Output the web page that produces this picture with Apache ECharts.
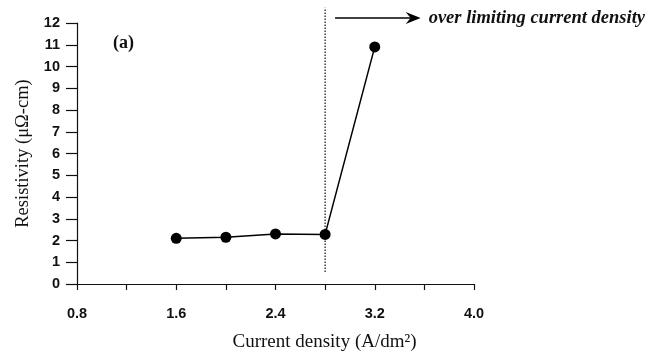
<!DOCTYPE html>
<html><head><meta charset="utf-8">
<script src="https://cdn.jsdelivr.net/npm/echarts@6/dist/echarts.min.js"></script>
<style>html,body{margin:0;padding:0;background:#fff}#c{width:663px;height:358px}</style>
</head><body><div id="c"></div>
<script>
const currentDensity = [1.6, 2.0, 2.4, 2.8, 3.2];
const resistivity = [2.1, 2.15, 2.3, 2.28, 10.9];
const xTicks = [0.8, 1.6, 2.4, 3.2, 4.0];
const limitX = 2.8;
const limitLineY = [0.55, 12.7];
const arrowX = [2.88, 3.57];
const arrowY = 12.23;
const annotation = 'over limiting current density';
const panelLabel = '(a)';

const chart = echarts.init(document.getElementById('c'));
const serif = '"Liberation Serif", "DejaVu Serif", serif';
const sans = '"Liberation Sans", Arial, sans-serif';
chart.setOption({
  animation: false,
  grid: {left: 77, right: 189, top: 23, bottom: 74},
  xAxis: {
    type: 'value', min: 0.8, max: 4.0, interval: 0.4,
    name: 'Current density (A/dm²)', nameLocation: 'middle', nameGap: 49,
    nameTextStyle: {fontFamily: serif, fontSize: 19, color: '#111', padding: [0,0,0,98]},
    axisLine: {onZero: false, lineStyle: {color: '#111', width: 1.2}},
    axisTick: {length: 6, lineStyle: {color: '#111', width: 1.2}},
    splitLine: {show: false},
    axisLabel: {
      margin: 22, fontFamily: sans, fontWeight: 'bold', fontSize: 14.5, color: '#111',
      formatter: v => xTicks.some(t => Math.abs(t - v) < 1e-6) ? v.toFixed(1) : ''
    }
  },
  yAxis: {
    type: 'value', min: 0, max: 12, interval: 1,
    name: 'Resistivity (μΩ-cm)', nameLocation: 'middle', nameGap: 44,
    nameTextStyle: {fontFamily: serif, fontSize: 18.5, color: '#111'},
    axisLine: {show: true, lineStyle: {color: '#111', width: 1.2}},
    axisTick: {show: true, length: 11, lineStyle: {color: '#111', width: 1.2}},
    splitLine: {show: false},
    axisLabel: {margin: 17, fontFamily: sans, fontWeight: 'bold', fontSize: 14.5, color: '#111'}
  },
  series: [
    {
      type: 'line', data: currentDensity.map((x, i) => [x, resistivity[i]]),
      symbol: 'circle', symbolSize: 11, itemStyle: {color: '#000'},
      lineStyle: {color: '#000', width: 1.5}, clip: false, z: 5
    },
    {
      type: 'line', data: [[limitX, limitLineY[0]], [limitX, limitLineY[1]]],
      symbol: 'none', clip: false,
      lineStyle: {color: '#222', width: 1.3, type: [1.5, 1.5]}, z: 3
    }
  ]
});
const p0 = chart.convertToPixel({gridIndex: 0}, [arrowX[0], arrowY]);
const p1 = chart.convertToPixel({gridIndex: 0}, [arrowX[1], arrowY]);
chart.setOption({
  graphic: [
    {type: 'line', shape: {x1: p0[0], y1: p0[1], x2: p1[0] - 8, y2: p1[1]},
     style: {stroke: '#000', lineWidth: 1.7}},
    {type: 'polygon', shape: {points: [[p1[0], p1[1]], [p1[0] - 15, p1[1] - 6], [p1[0] - 10, p1[1]], [p1[0] - 15, p1[1] + 6]]},
     style: {fill: '#000'}},
    {type: 'text', x: p1[0] + 8, y: p1[1],
     style: {text: annotation, fontFamily: serif, fontStyle: 'italic', fontWeight: 'bold', fontSize: 18.5, fill: '#111', verticalAlign: 'middle'}},
    {type: 'text', x: 113, y: 43,
     style: {text: panelLabel, fontFamily: serif, fontWeight: 'bold', fontSize: 18, fill: '#111', verticalAlign: 'middle'}}
  ]
});
</script></body></html>
